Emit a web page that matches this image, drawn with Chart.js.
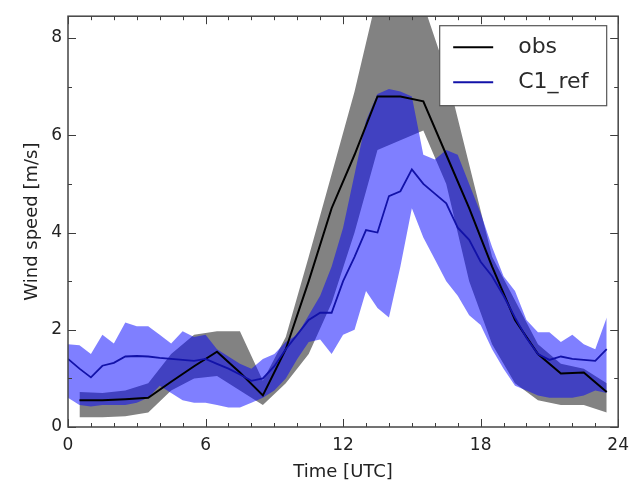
<!DOCTYPE html>
<html>
<head>
<meta charset="utf-8">
<title>Wind speed</title>
<script src="https://cdn.jsdelivr.net/npm/chart.js@4/dist/chart.umd.min.js"></script>
<style>
  html, body { margin: 0; padding: 0; background: #fff; }
  #wrap { width: 637px; height: 485px; }
</style>
</head>
<body>
<div id="wrap"><canvas id="windChart" width="637" height="485"></canvas></div>
<script>
// hourly observations (centre of each hour) with their min/max envelope
const obsHours = [0.5, 1.5, 2.5, 3.5, 4.5, 5.5, 6.5, 7.5, 8.5, 9.5, 10.5, 11.5,
                  12.5, 13.5, 14.5, 15.5, 16.5, 17.5, 18.5, 19.5, 20.5, 21.5, 22.5, 23.5];
const obsMean = [0.55, 0.55, 0.57, 0.6, 0.93, 1.25, 1.55, 1.12, 0.65, 1.6, 3.0, 4.5,
                 5.6, 6.8, 6.8, 6.7, 5.6, 4.5, 3.3, 2.2, 1.5, 1.1, 1.12, 0.72];
const obsLow = [0.2, 0.2, 0.22, 0.3, 0.75, 1.0, 1.05, 0.75, 0.45, 0.9, 1.5, 2.55,
                4.0, 5.7, 5.9, 6.1, 5.0, 3.0, 1.7, 0.9, 0.55, 0.45, 0.45, 0.3];
const obsHigh = [0.72, 0.7, 0.75, 0.9, 1.5, 1.9, 1.97, 1.97, 0.95, 1.85, 3.5, 5.2,
                 6.9, 8.9, 9.6, 8.7, 7.3, 5.4, 3.5, 2.6, 1.7, 1.3, 1.2, 0.9];

// C1_ref run, half-hourly output: mean and spread
const modelHours = [0, 0.5, 1, 1.5, 2, 2.5, 3, 3.5, 4, 4.5, 5, 5.5,
                    6, 6.5, 7, 7.5, 8, 8.5, 9, 9.5, 10, 10.5, 11, 11.5,
                    12, 12.5, 13, 13.5, 14, 14.5, 15, 15.5, 16, 16.5, 17, 17.5,
                    18, 18.5, 19, 19.5, 20, 20.5, 21, 21.5, 22, 22.5, 23, 23.5];
const modelMean = [1.4, 1.2, 1.02, 1.26, 1.32, 1.45, 1.46, 1.45, 1.42, 1.4, 1.38, 1.36,
                   1.4, 1.3, 1.2, 1.08, 0.95, 1.0, 1.25, 1.6, 1.9, 2.2, 2.35, 2.35,
                   3.0, 3.5, 4.05, 4.0, 4.75, 4.85, 5.3, 5.0, 4.8, 4.6, 4.1, 3.85,
                   3.4, 3.1, 2.7, 2.25, 1.83, 1.5, 1.38, 1.45, 1.4, 1.38, 1.36, 1.6];
const modelLow = [0.6, 0.45, 0.42, 0.45, 0.45, 0.45, 0.5, 0.6, 0.85, 0.7, 0.55, 0.5,
                  0.5, 0.45, 0.4, 0.4, 0.5, 0.6, 0.75, 1.0, 1.4, 1.75, 1.8, 1.5,
                  1.9, 2.0, 2.8, 2.45, 2.25, 3.3, 4.5, 3.9, 3.45, 3.0, 2.7, 2.3,
                  2.1, 1.6, 1.2, 0.85, 0.75, 0.65, 0.6, 0.6, 0.6, 0.65, 0.75, 0.7];
const modelHigh = [1.7, 1.68, 1.5, 1.9, 1.72, 2.15, 2.07, 2.07, 1.9, 1.72, 1.97, 1.85,
                   1.9, 1.6, 1.45, 1.3, 1.2, 1.4, 1.5, 1.75, 1.9, 2.3, 2.7, 3.3,
                   4.1, 5.2, 6.3, 6.85, 6.95, 6.9, 6.8, 5.6, 5.5, 5.7, 5.6, 5.0,
                   4.4, 3.7, 3.1, 2.8, 2.2, 1.95, 1.95, 1.75, 1.9, 1.7, 1.6, 2.25];

const xTicks = [0, 6, 12, 18, 24];
const yTicks = [0, 2, 4, 6, 8];

const FONT = 'DejaVu Sans';
const pts = (xs, ys) => xs.map((x, i) => ({ x: x, y: ys[i] }));

// inward ticks on all four sides plus the axes frame
const frameTicks = {
  id: 'frameTicks',
  afterDatasetsDraw(chart) {
    const { ctx, chartArea: a, scales: { x, y } } = chart;
    ctx.save();
    ctx.strokeStyle = '#3c3c3c';
    ctx.lineWidth = 1;
    ctx.beginPath();
    for (let h = 0; h <= 24; h++) {
      const px = Math.round(x.getPixelForValue(h)) + 0.5;
      const len = h % 6 === 0 ? 8 : 4;
      ctx.moveTo(px, a.bottom); ctx.lineTo(px, a.bottom - len);
      ctx.moveTo(px, a.top); ctx.lineTo(px, a.top + len);
    }
    for (let v = 0; v <= 8; v++) {
      const py = Math.round(y.getPixelForValue(v)) + 0.5;
      const len = v % 2 === 0 ? 8 : 4;
      ctx.moveTo(a.left, py); ctx.lineTo(a.left + len, py);
      ctx.moveTo(a.right, py); ctx.lineTo(a.right - len, py);
    }
    ctx.stroke();
    ctx.lineWidth = 1.5;
    ctx.strokeStyle = '#444';
    ctx.strokeRect(a.left, a.top, a.right - a.left, a.bottom - a.top);
    ctx.restore();
  }
};

// matplotlib-like legend box in the upper right corner
const boxLegend = {
  id: 'boxLegend',
  afterDraw(chart) {
    const { ctx, chartArea: a } = chart;
    const items = chart.data.datasets.filter(d => d.inLegend);
    const w = 167, h = 80;
    const left = a.right - 12 - w, top = a.top + 9;
    ctx.save();
    ctx.fillStyle = '#fff';
    ctx.fillRect(left, top, w, h);
    ctx.strokeStyle = '#555';
    ctx.lineWidth = 1.2;
    ctx.strokeRect(left + 0.5, top + 0.5, w, h);
    ctx.font = '22px "' + FONT + '"';
    ctx.textBaseline = 'middle';
    items.forEach((d, i) => {
      const yy = top + 22 + i * 35;
      ctx.strokeStyle = d.borderColor;
      ctx.lineWidth = 2;
      ctx.beginPath();
      ctx.moveTo(left + 14, yy);
      ctx.lineTo(left + 54, yy);
      ctx.stroke();
      ctx.fillStyle = '#2a2a2a';
      ctx.fillText(d.label, left + 79, yy);
    });
    ctx.restore();
  }
};

const band = { borderWidth: 0, borderColor: 'rgba(0,0,0,0)', pointRadius: 0, tension: 0 };

new Chart(document.getElementById('windChart'), {
  type: 'line',
  data: {
    datasets: [
      { ...band, label: 'obs min', data: pts(obsHours, obsLow), fill: false, order: 3 },
      { ...band, label: 'obs max', data: pts(obsHours, obsHigh), fill: 0,
        backgroundColor: '#828282', order: 3 },
      { ...band, label: 'C1_ref min', data: pts(modelHours, modelLow), fill: false, order: 2 },
      { ...band, label: 'C1_ref max', data: pts(modelHours, modelHigh), fill: 2,
        backgroundColor: 'rgba(0,0,255,0.5)', order: 2 },
      { label: 'obs', data: pts(obsHours, obsMean), borderColor: '#000',
        borderWidth: 2, pointRadius: 0, tension: 0, fill: false, order: 1, inLegend: true },
      { label: 'C1_ref', data: pts(modelHours, modelMean), borderColor: '#1212a8',
        borderWidth: 1.8, pointRadius: 0, tension: 0, fill: false, order: 0, inLegend: true }
    ]
  },
  options: {
    responsive: false,
    animation: false,
    events: [],
    layout: { padding: { left: 0, right: 15, top: 11, bottom: 0 } },
    plugins: {
      legend: { display: false },
      tooltip: { enabled: false }
    },
    scales: {
      x: {
        type: 'linear',
        min: 0,
        max: 24,
        afterBuildTicks: s => { s.ticks = xTicks.map(v => ({ value: v })); },
        afterFit: s => { s.height = 58; },
        grid: { display: false, drawTicks: false },
        border: { display: false },
        ticks: { font: { family: FONT, size: 17 }, color: '#222', padding: 8 },
        title: { display: true, text: 'Time [UTC]', color: '#222',
                 font: { family: FONT, size: 18 }, padding: { top: 0, bottom: 2 } }
      },
      y: {
        min: 0,
        max: 8.45,
        afterBuildTicks: s => { s.ticks = yTicks.map(v => ({ value: v })); },
        afterFit: s => { s.width = 68; },
        grid: { display: false, drawTicks: false },
        border: { display: false },
        ticks: { font: { family: FONT, size: 17 }, color: '#222', padding: 6 },
        title: { display: true, text: 'Wind speed [m/s]', color: '#222',
                 font: { family: FONT, size: 18 }, padding: { top: 22, bottom: 0 } }
      }
    }
  },
  plugins: [frameTicks, boxLegend]
});
</script>
</body>
</html>
